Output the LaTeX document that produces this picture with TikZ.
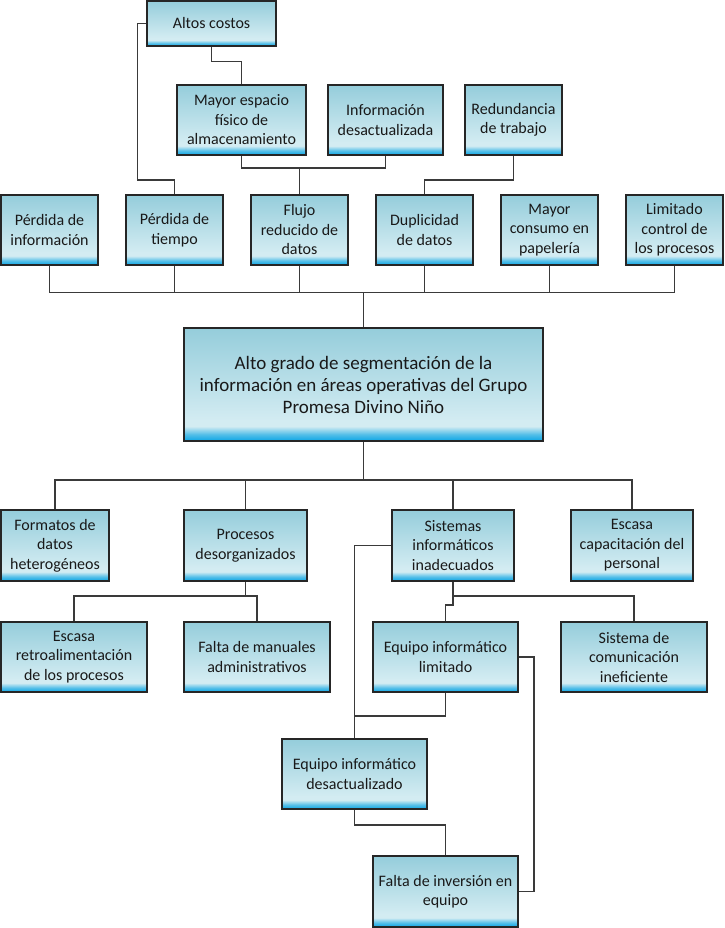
\documentclass[tikz,border=0pt]{standalone}
\usepackage{fontspec}
\setmainfont{Carlito}
\usepackage{tikz}

\definecolor{cajaazul}{HTML}{0AA5E6}
\definecolor{cajamedio}{HTML}{55BFE8}
\definecolor{cajaclaro}{HTML}{D3ECF2}
\definecolor{cajaarriba}{HTML}{95CDDB}
\definecolor{linea}{HTML}{3A3A3A}
\pgfdeclareverticalshading{cajashade}{100bp}{%
  color(0bp)=(cajaazul); color(25bp)=(cajaazul); color(28bp)=(cajamedio);
  color(31.5bp)=(cajaclaro); color(34bp)=(cajaclaro); color(75bp)=(cajaarriba);
  color(100bp)=(cajaarriba)}

\tikzset{
  caja/.style={draw=black!85, line width=1.4pt, shading=cajashade, shade,
    align=center, inner sep=2pt, text=black!90,
    font=\fontsize{16}{19.5}\selectfont},
  chica/.style={caja, minimum width=97pt, minimum height=70pt},
  media/.style={caja, minimum width=145pt, minimum height=70pt},
  ancha/.style={caja, minimum width=122pt, minimum height=71pt},
  conector/.style={draw=linea, line width=1.6pt}
}

\begin{document}
\begin{tikzpicture}[x=1pt,y=-1pt]
			\useasboundingbox (0,0) rectangle (724,928);

			% efectos
			\node[caja, minimum width=129pt, minimum height=45pt] (altos) at (211.5,23.5) {Altos costos};
			\node[caja, minimum width=129pt, minimum height=70pt] (espacio) at (241.5,120) {Mayor espacio\\físico de\\almacenamiento};
			\node[caja, minimum width=115pt, minimum height=70pt] (infodes) at (385.5,120) {Información\\desactualizada};
			\node[chica] (redund) at (513.5,120) {Redundancia\\de trabajo};

			\node[chica] (perdinfo) at (49.5,230) {Pérdida de\\información};
			\node[chica] (perdtiempo) at (174.5,230) {Pérdida de\\tiempo};
			\node[chica] (flujo) at (299.5,230) {Flujo\\reducido de\\datos};
			\node[chica] (duplic) at (424.5,230) {Duplicidad\\de datos};
			\node[chica] (consumo) at (549.5,230) {Mayor\\consumo en\\papelería};
			\node[chica] (control) at (674.5,230) {Limitado\\control de\\los procesos};

			% problema central
			\node[caja, minimum width=359pt, minimum height=113pt, font=\fontsize{19}{22}\selectfont] (main) at (363.5,384.5)
				{Alto grado de segmentación de la\\información en áreas operativas del Grupo\\Promesa Divino Niño};

			% causas
			\node[caja, minimum width=108pt, minimum height=71pt] (formatos) at (55,545.5) {Formatos de\\datos\\heterogéneos};
			\node[caja, minimum width=123pt, minimum height=71pt] (procesos) at (245.5,545.5) {Procesos\\desorganizados};
			\node[ancha] (sistemas) at (453,545.5) {Sistemas\\informáticos\\inadecuados};
			\node[ancha] (capacit) at (632,545.5) {Escasa\\capacitación del\\personal};

			\node[caja, minimum width=146pt, minimum height=70pt] (retro) at (74,657) {Escasa\\retroalimentación\\de los procesos};
			\node[caja, minimum width=146pt, minimum height=70pt] (manuales) at (257,657) {Falta de manuales\\administrativos};
			\node[media] (eqlim) at (445.5,657) {Equipo informático\\limitado};
			\node[caja, minimum width=146pt, minimum height=70pt] (comunic) at (634,657) {Sistema de\\comunicación\\ineficiente};

			\node[media] (eqdes) at (354.5,774) {Equipo informático\\desactualizado};
			\node[caja, minimum width=145pt, minimum height=71pt] (inversion) at (445.5,891.5) {Falta de inversión en\\equipo};

			% conectores de arriba
			\draw[conector] (altos.south) -- ++(0,15) -| (espacio.north);
			\draw[conector] (altos.west) -- ++(-9,0) |- ([yshift=14pt]perdtiempo.north) -- (perdtiempo.north);
			\draw[conector] (espacio.south) |- ([yshift=26pt]flujo.north) -- (flujo.north);
			\draw[conector] (infodes.south) |- ([yshift=26pt]flujo.north);
			\draw[conector] (redund.south) |- ([yshift=14pt]duplic.north) -- (duplic.north);

			\coordinate (barra) at ([yshift=35pt]main.north);
			\foreach \n in {perdinfo,perdtiempo,flujo,duplic,consumo,control}
				\draw[conector] (\n.south) |- (barra);
			\draw[conector] (barra) -- (main.north);

			% conectores de abajo
			\coordinate (barrados) at ([yshift=-38pt]main.south);
			\foreach \n in {formatos,procesos,sistemas,capacit}
				\draw[conector] (main.south) -- (barrados) -| (\n.north);

			\draw[conector] (procesos.south) -- ++(0,14) -| (retro.north);
			\draw[conector] (procesos.south) -- ++(0,14) -| (manuales.north);
			\draw[conector] (sistemas.south) -- ++(0,14) -| (comunic.north);
			\draw[conector] (sistemas.south) -- ++(0,23) -| (eqlim.north);
			\draw[conector] (sistemas.west) -| (eqdes.north);
			\draw[conector] (eqlim.south) -- ++(0,23) -| (eqdes.north);
			\draw[conector] (eqdes.south) -- ++(0,15) -| (inversion.north);
			\draw[conector] (eqlim.east) -- ++(15,0) |- (inversion.east);
		\end{tikzpicture}
\end{document}
